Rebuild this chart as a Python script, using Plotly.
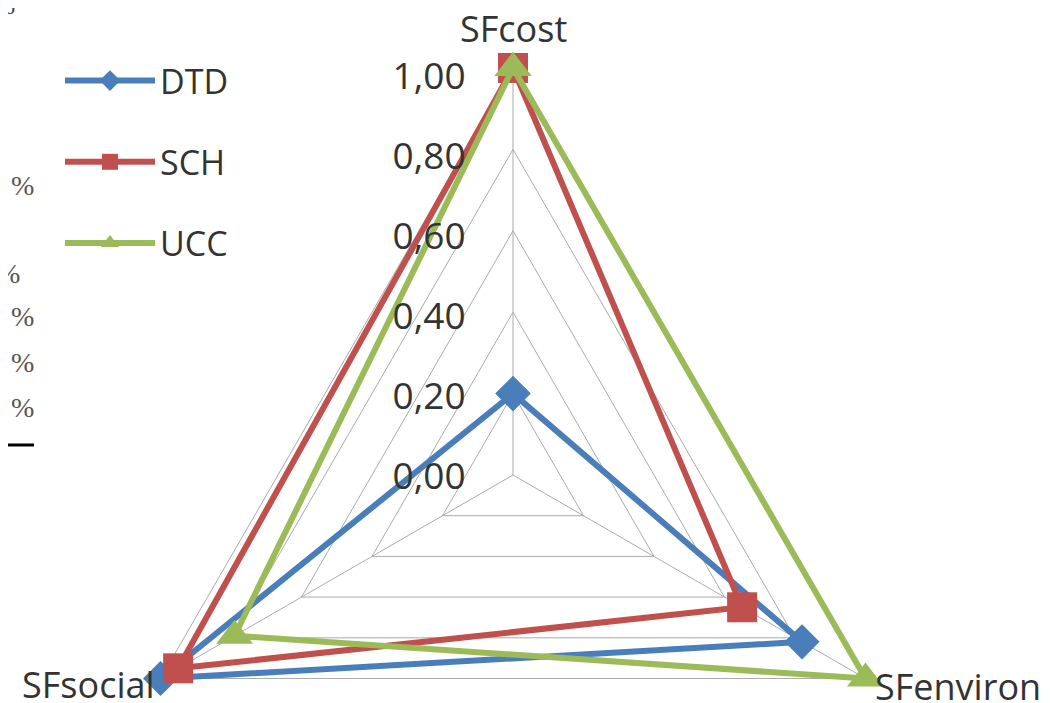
import plotly.graph_objects as go

# ---- data ----
categories = ["SFcost", "SFenviron", "SFsocial"]
series_names = ["DTD", "SCH", "UCC"]
dtd_values = [0.20, 0.82, 1.00]
sch_values = [1.00, 0.65, 0.95]
ucc_values = [1.00, 1.00, 0.79]
radial_ticks = [0.0, 0.2, 0.4, 0.6, 0.8, 1.0]

colors = ["#4A7EBB", "#C0504D", "#9BBB59"]
symbols = ["diamond", "square", "triangle-up"]
sizes = [27, 30, 32]

W, H = 1050, 900
OFF = 8                      # page body margin
CX, CY, R = 513 - OFF, 475 - OFF, 407   # polar centre (figure px) and radius of value 1.0
RMAX = 1.02                  # small headroom so edge lines are not clipped
RD = R * RMAX                # radius of the polar domain circle
LCX, LCY, LR = 513 - OFF, 477 - OFF, 400  # tick-label overlay circle


def dom(cx, cy, r):
    return dict(x=[(cx - r) / W, (cx + r) / W], y=[1 - (cy + r) / H, 1 - (cy - r) / H])


fig = go.Figure()
for name, vals, col, sym, sz in zip(series_names, [dtd_values, sch_values, ucc_values], colors, symbols, sizes):
    fig.add_trace(go.Scatterpolar(
        r=vals + vals[:1],
        theta=categories + categories[:1],
        mode="lines+markers",
        name=name,
        legendgroup=name,
        line=dict(color=col, width=6),
        marker=dict(symbol=sym, size=sz, color=col),
        cliponaxis=False,
    ))

# empty trace that anchors the tick-label overlay subplot
fig.add_trace(go.Scatterpolar(r=[], theta=[], subplot="polar2", showlegend=False, hoverinfo="skip"))

font_family = "Open Sans, DejaVu Sans, sans-serif"
txt = "#333333"
grid = "#ABABAB"

fig.update_layout(
    width=W, height=H,
    margin=dict(l=0, r=0, t=0, b=0),
    paper_bgcolor="white",
    separators=", ",
    font=dict(family=font_family, color=txt, size=30),
    polar=dict(
        bgcolor="white",
        gridshape="linear",
        domain=dom(CX, CY, RD),
        angularaxis=dict(
            type="category",
            categoryarray=categories,
            rotation=90,
            direction="clockwise",
            showline=False,
            showgrid=True,
            gridcolor=grid,
            gridwidth=1.2,
            ticks="",
            showticklabels=False,
        ),
        radialaxis=dict(
            range=[0, RMAX],
            tickvals=radial_ticks,
            angle=90,
            showline=False,
            showgrid=True,
            gridcolor=grid,
            gridwidth=1.2,
            ticks="",
            showticklabels=False,
        ),
    ),
    polar2=dict(
        bgcolor="rgba(0,0,0,0)",
        gridshape="linear",
        domain=dom(LCX, LCY, LR),
        angularaxis=dict(
            type="category",
            categoryarray=categories,
            rotation=90,
            direction="clockwise",
            showline=False,
            showgrid=False,
            ticks="",
            showticklabels=False,
        ),
        radialaxis=dict(
            range=[0, 1],
            tickvals=radial_ticks,
            tickformat=".2f",
            angle=90,
            side="counterclockwise",
            tickangle=90,
            showline=False,
            showgrid=False,
            ticks="outside",
            ticklen=34,
            tickcolor="rgba(0,0,0,0)",
            tickfont=dict(size=37, color=txt),
        ),
    ),
    showlegend=True,
    legend=dict(
        x=52 / W, y=1 - 44 / H,
        xanchor="left", yanchor="top",
        font=dict(size=34, color=txt),
        itemwidth=90,
        tracegroupgap=34,
        bgcolor="rgba(0,0,0,0)",
    ),
)


def px(x, y):
    return x / W, 1 - y / H


# category labels at the three corners
label_pos = [(513 - OFF, 29 - OFF, "center"), (873 - OFF, 686 - OFF, "left"), (157 - OFF, 684 - OFF, "right")]
for cat, (lx, ly, anc) in zip(categories, label_pos):
    xx, yy = px(lx, ly)
    fig.add_annotation(x=xx, y=yy, xref="paper", yref="paper", text=cat, showarrow=False,
                       xanchor=anc, yanchor="middle", font=dict(size=36, color=txt))

# cropped page artifacts on the left edge
for (ax_, ay_) in [(22, 185), (8, 273), (22, 317), (22, 363), (22, 407)]:
    xx, yy = px(ax_ - OFF, ay_ - OFF)
    fig.add_annotation(x=xx, y=yy, xref="paper", yref="paper", text="%", xanchor="center", yanchor="middle",
                       showarrow=False, font=dict(family="Liberation Serif", size=28, color="#555"))
xx, yy = px(17 - OFF, 6 - OFF)
fig.add_annotation(x=xx, y=yy, xref="paper", yref="paper", text="26", xanchor="right", yanchor="middle",
                   showarrow=False, font=dict(family="Liberation Serif", size=22, color="#444"))
x0, y0 = px(0, 445 - OFF)
x1, _ = px(34 - OFF, 445 - OFF)
fig.add_shape(type="line", xref="paper", yref="paper", x0=x0, x1=x1, y0=y0, y1=y0,
              line=dict(color="black", width=3))

fig.write_html("out.html")
